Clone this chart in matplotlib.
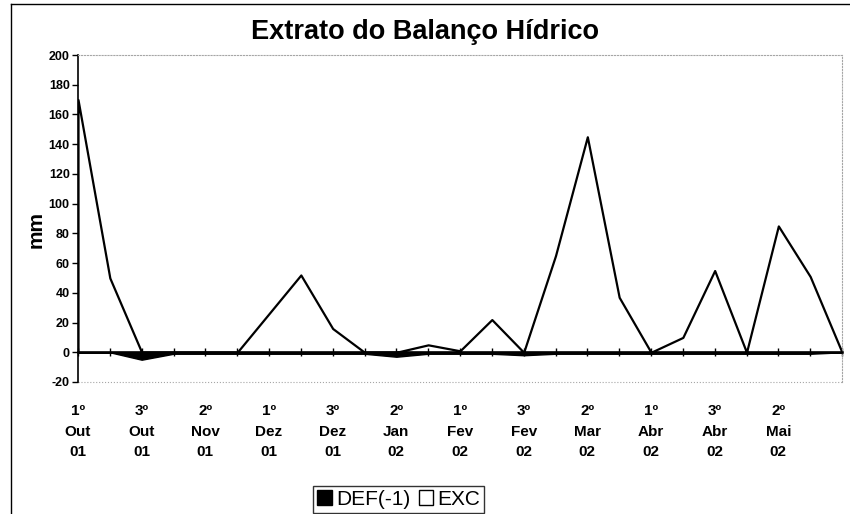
import matplotlib
matplotlib.use('Agg')
import matplotlib.pyplot as plt
from matplotlib.patches import Patch
from matplotlib.lines import Line2D

# fonte parecida com Arial, hífen comum no "-20"
plt.rcParams['font.family'] = ['Liberation Sans', 'DejaVu Sans']
plt.rcParams['axes.unicode_minus'] = False

# --- dados (decêndios de 1º Out 01 a 1º Jun 02) ---
decendio = ['1º', '2º', '3º', '1º', '2º', '3º', '1º', '2º', '3º', '1º', '2º', '3º', '1º',
            '2º', '3º', '1º', '2º', '3º', '1º', '2º', '3º', '1º', '2º', '3º', '1º']
mes = ['Out', 'Out', 'Out', 'Nov', 'Nov', 'Nov', 'Dez', 'Dez', 'Dez', 'Jan', 'Jan', 'Jan', 'Fev',
       'Fev', 'Fev', 'Mar', 'Mar', 'Mar', 'Abr', 'Abr', 'Abr', 'Mai', 'Mai', 'Mai', 'Jun']
ano = ['01'] * 9 + ['02'] * 16

# excedente hídrico (mm)
exc = [170, 50, 0, 0, 0, 0, 26, 52, 16, 0, 0, 5, 1, 22, 0, 65, 145, 37, 0, 10, 55, 0, 85, 51, 0]
# deficiência hídrica x (-1) (mm)
deficit = [0, 0, -5, -1, -1, -1, -1, -1, -1, -1, -3, -1, -1, -1, -2, -1, -1, -1, -1, -1, -1, -1, -1, -1, 0]

y_ticks = list(range(-20, 201, 20))

x = list(range(len(exc)))
rotulos = [f'{d}\n{m}\n{a}' for d, m, a in zip(decendio, mes, ano)]

fig = plt.figure(figsize=(8.5, 5.14), dpi=100)
ax = fig.add_axes([78 / 850, 1 - 382 / 514, 764 / 850, 327 / 514])

# áreas: DEF preta, EXC branca com contorno
ax.fill_between(x, 0, deficit, facecolor='black', edgecolor='black', linewidth=1.0)
ax.fill_between(x, 0, exc, facecolor='white', edgecolor='black', linewidth=1.6)

ax.set_xlim(0, len(exc) - 1)
ax.set_ylim(-20, 200)
ax.set_yticks(y_ticks)
ax.tick_params(axis='y', direction='out', length=4, width=1, labelsize=9, pad=2)
for t in ax.get_yticklabels():
    t.set_fontweight('bold')

# eixo das categorias cruza no zero, marcas cruzadas
ax.spines['bottom'].set_position(('data', 0))
ax.spines['bottom'].set_linewidth(1.8)
ax.spines['left'].set_linewidth(1.2)
ax.set_xticks(x)
ax.tick_params(axis='x', direction='inout', length=6, width=1, labelbottom=False)

# borda da área de plotagem (bem apagada no original)
for s in ['top', 'right']:
    ax.spines[s].set_linestyle(':')
    ax.spines[s].set_color('0.65')
    ax.spines[s].set_linewidth(0.8)
ax.axhline(-20, color='0.65', linestyle=':', linewidth=0.8, clip_on=False)

# rótulos das categorias embaixo (a cada 2 decêndios, o último fica sem rótulo)
sec = ax.secondary_xaxis('bottom')
sec.spines['bottom'].set_visible(False)
sec.set_xticks(x[0:-1:2])
sec.set_xticklabels(rotulos[0:-1:2], fontsize=11, fontweight='bold', linespacing=1.6)
sec.tick_params(axis='x', length=0, pad=16)

ax.set_ylabel('mm', fontsize=15, fontweight='bold')
ax.yaxis.set_label_coords(-0.043, 0.465)

fig.suptitle('Extrato do Balanço Hídrico', x=0.5, y=1 - 32 / 514, va='center',
             fontsize=19.5, fontweight='bold')

# legenda
handles = [Patch(facecolor='black', edgecolor='black'),
           Patch(facecolor='white', edgecolor='black')]
leg = fig.legend(handles, ['DEF(-1)', 'EXC'], loc='lower center', bbox_to_anchor=(0.469, 0.002),
                 ncol=2, fontsize=15, frameon=True, fancybox=False, edgecolor='black',
                 handlelength=0.7, handleheight=0.7, handletextpad=0.2, columnspacing=0.4,
                 borderpad=0.2, borderaxespad=0)
leg.get_frame().set_linewidth(1.0)

# moldura do gráfico (só esquerda e topo aparecem)
fig.add_artist(Line2D([0.013, 0.013], [0, 0.993], color='black', linewidth=1.0))
fig.add_artist(Line2D([0.013, 1], [0.993, 0.993], color='black', linewidth=1.0))

fig.savefig('out.png', dpi=100)
